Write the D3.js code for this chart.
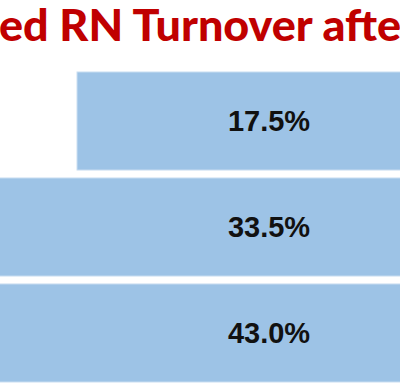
<!DOCTYPE html>
<html>
<head>
<meta charset="utf-8">
<script src="https://cdn.jsdelivr.net/npm/d3@7"></script>
<style>
  html, body { margin: 0; padding: 0; background: #fff; overflow: hidden; }
  svg { display: block; }
</style>
</head>
<body>
<script>
// ---- data ----
const titleText = "ed RN Turnover afte";
const categories = ["A", "B", "C"];
const values = [17.5, 33.5, 43.0];
const valueLabels = ["17.5%", "33.5%", "43.0%"];

const W = 400, H = 392;
const svg = d3.select("body").append("svg").attr("width", W).attr("height", H);

const cx = 269, k = 21.94;
const x = d3.scaleLinear().domain([-25, 25]).range([cx - 25 * k, cx + 25 * k]);
const y = d3.scaleBand().domain(categories).range([68, 386]).paddingInner(0.075).paddingOuter(0.0377);

const data = categories.map((c, i) => ({ c, v: values[i], label: valueLabels[i] }));

svg.append("g").selectAll("rect").data(data).join("rect")
  .attr("x", d => x(-d.v / 2))
  .attr("y", d => y(d.c))
  .attr("width", d => x(d.v / 2) - x(-d.v / 2))
  .attr("height", y.bandwidth())
  .attr("fill", "#9DC3E6")
  .attr("stroke", "#C9DDF1")
  .attr("stroke-width", 1);

svg.append("g").selectAll("text").data(data).join("text")
  .attr("x", cx)
  .attr("y", d => y(d.c) + y.bandwidth() / 2)
  .attr("dy", "0.36em")
  .attr("text-anchor", "middle")
  .attr("font-family", "Liberation Sans, Arial, sans-serif")
  .attr("font-weight", "bold")
  .attr("font-size", 29)
  .attr("fill", "#111")
  .text(d => d.label);

svg.append("text")
  .attr("x", -1)
  .attr("y", 41)
  .attr("font-family", "Lato, sans-serif")
  .attr("font-weight", "900")
  .attr("font-size", 43)
  .attr("fill", "#C00000")
  .attr("textLength", 402)
  .attr("lengthAdjust", "spacingAndGlyphs")
  .text(titleText);
</script>
</body>
</html>
